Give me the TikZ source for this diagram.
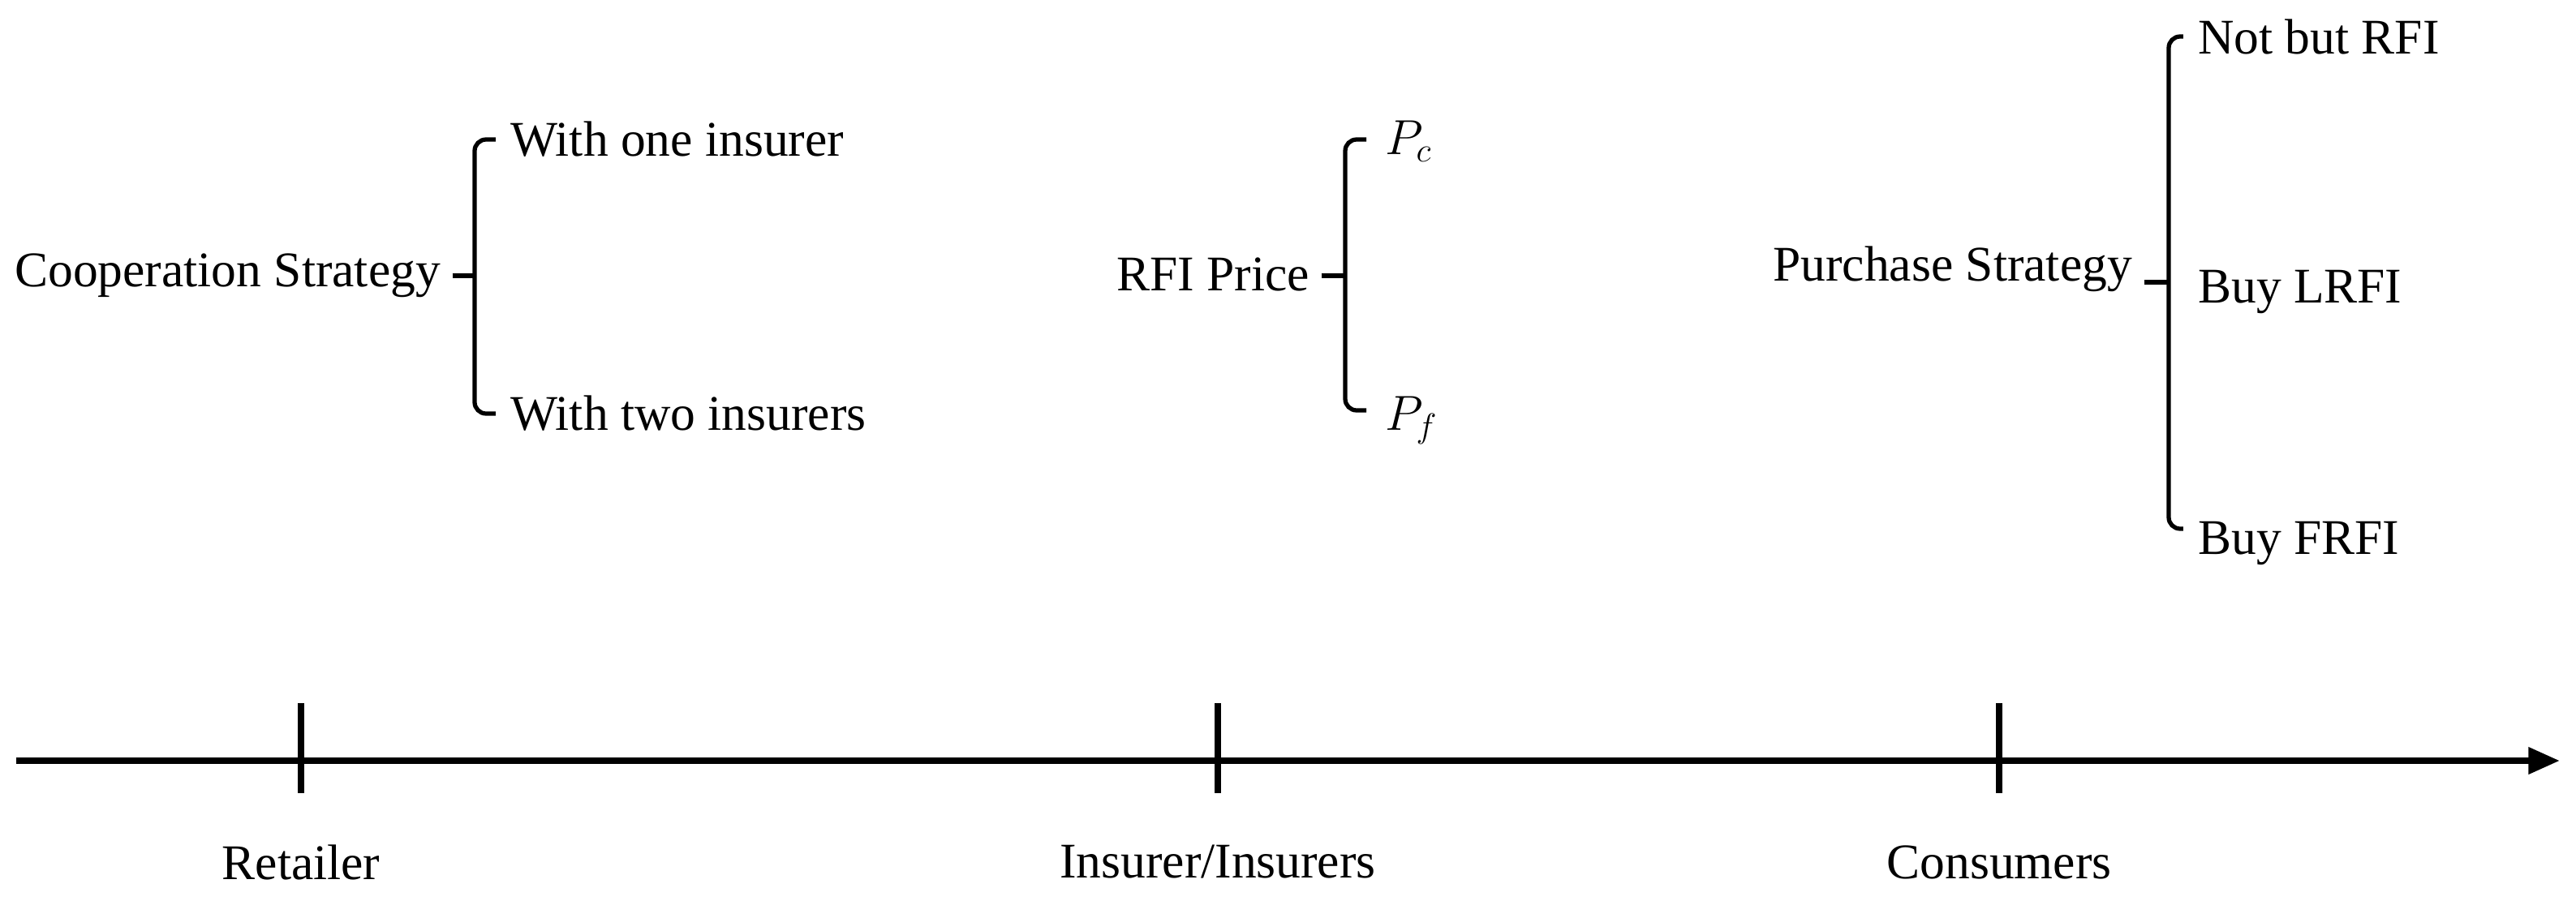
\documentclass[tikz,border=0pt]{standalone}
\usepackage{fontspec}
\setmainfont{Liberation Serif}
\usepackage{tikz}
\usetikzlibrary{positioning, arrows.meta}

\begin{document}
\begin{tikzpicture}[
  lbl/.style={font=\fontsize{17.5}{21}\selectfont, inner sep=1pt},
  bracket/.style={line width=1.5pt, rounded corners=4pt},
  axisline/.style={line width=2.3pt, -{Triangle[length=11pt, width=9pt]}},
  tickline/.style={line width=2.3pt}
]
\useasboundingbox (0,0) rectangle (31.75,11.1);

% ---- RETAILER ----
\begin{scope}
  \node[lbl, anchor=east] (coop) at (5.47, 7.70) {Cooperation Strategy};
  \node[lbl, anchor=west] (one)  at (6.25, 9.38) {With one insurer};
  \node[lbl, anchor=west] (two)  at (6.25, 6.00) {With two insurers};
  \coordinate (cm) at (5.85, 7.70);

  \draw[bracket] ([xshift=-4pt]one.west) -| (cm) |- ([xshift=-4pt]two.west);
  \draw[bracket] ([xshift=3pt]coop.east) -- (cm);
\end{scope}

% ---- INSURER ----
\begin{scope}
  \node[lbl, anchor=east] (price) at (16.18, 7.72) {RFI Price};
  \node[lbl, anchor=base west] (pc) at (17.03, 9.20) {$P_c$};
  \node[lbl, anchor=base west] (pf) at (17.03, 5.80) {$P_f$};
  \coordinate (pm) at (16.58, 7.70);

  \draw[bracket] (16.84, 9.38) -| (pm) |- (16.84, 6.04);
  \draw[bracket] ([xshift=3pt]price.east |- pm) -- (pm);
\end{scope}

% ---- CONSUMERS ----
\begin{scope}
  \node[lbl, anchor=east] (buy)  at (26.32, 7.78) {Purchase Strategy};
  \node[lbl, anchor=west] (nbr)  at (27.05, 10.65) {Not but RFI};
  \node[lbl, anchor=west] (lrfi) at (27.05, 7.50) {Buy LRFI};
  \node[lbl, anchor=west] (frfi) at (27.05, 4.40) {Buy FRFI};
  \coordinate (bm) at (26.73, 7.62);

  \draw[bracket] ([xshift=-4pt]nbr.west |- 0,10.65) -| (bm) |- ([xshift=-4pt]frfi.west |- 0,4.58);
  \draw[bracket] ([xshift=3pt]buy.east |- bm) -- (bm);
\end{scope}

% ---- Axe du temps ----
\coordinate (a0) at (0.20, 1.72);
\coordinate (a1) at (31.55, 1.72);
\draw[axisline] (a0) -- (a1);

\foreach \x/\name in {3.71/ret, 15.01/ins, 24.64/con}
  \draw[tickline] (\x, 2.43) -- (\x, 1.32) coordinate (\name);

\node[lbl] (retl) at (3.71, 0.47)  {Retailer};
\node[lbl] (insl) at (15.01, 0.47) {Insurer/Insurers};
\node[lbl] (conl) at (24.64, 0.47) {Consumers};

\end{tikzpicture}
\end{document}
